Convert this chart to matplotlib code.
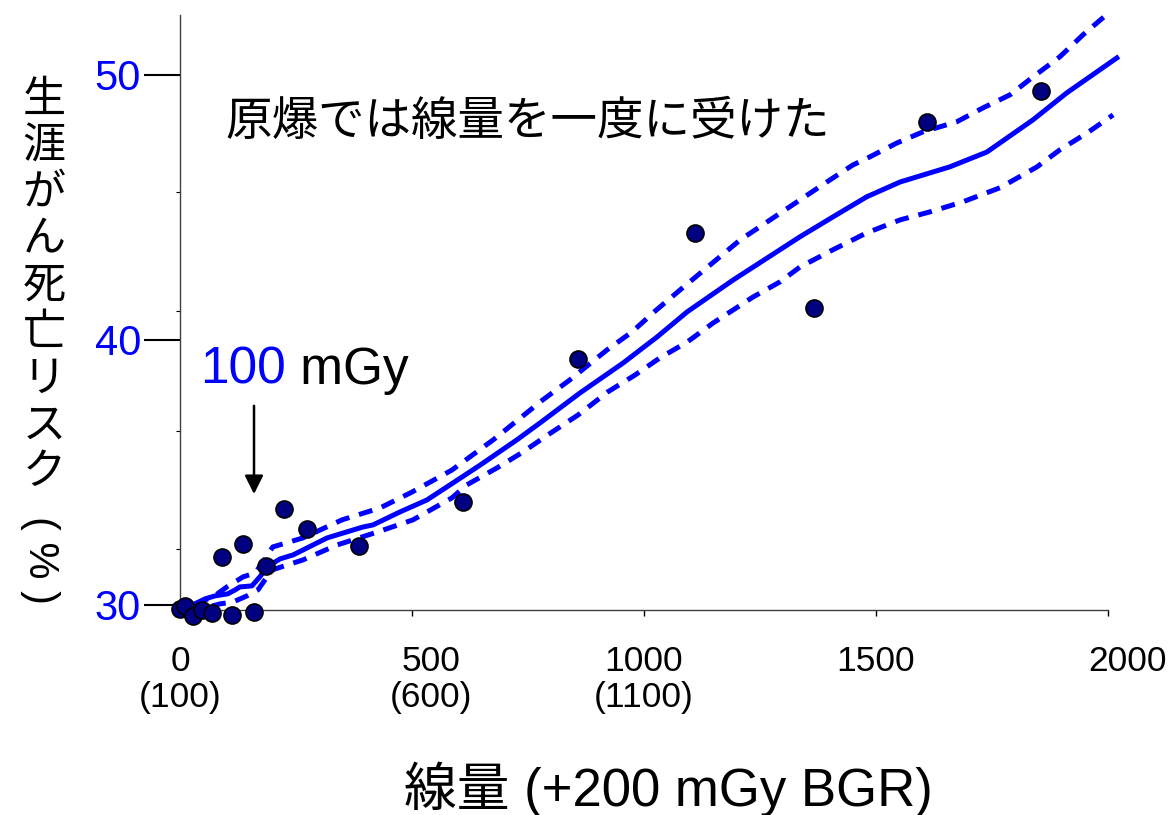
import matplotlib
matplotlib.use('Agg')
import matplotlib.pyplot as plt
import matplotlib.transforms as mtransforms

plt.rcParams['font.family'] = ['Liberation Sans', 'Noto Sans CJK JP', 'DejaVu Sans']

# dose categories (mGy) and observed lifetime cancer mortality (%)
dose_pts = [0, 11, 28, 47, 69, 112, 159, 91, 136, 185, 224, 274, 386,
            610, 858, 1110, 1366, 1610, 1855]
risk_pts = [29.85, 29.96, 29.58, 29.81, 29.70, 29.62, 29.74, 31.81, 32.30,
            31.47, 33.62, 32.87, 32.23, 33.89, 39.28, 44.04, 41.21, 48.23,
            49.40]

# smoothed fit
fit_dose = [6, 32, 54, 75, 103, 119, 129, 155, 172, 190, 216, 244, 317, 394,
            416, 474, 532, 588, 647, 726, 776, 862, 955, 1028, 1093, 1192,
            1336, 1407, 1480, 1552, 1659, 1739, 1838, 1911, 2019]
fit_risk = [29.92, 30.04, 30.23, 30.34, 30.42, 30.57, 30.68, 30.72, 31.06,
            31.47, 31.74, 31.89, 32.53, 32.94, 33.02, 33.51, 33.96, 34.60,
            35.28, 36.23, 36.87, 38.00, 39.13, 40.11, 41.06, 42.26, 43.89,
            44.64, 45.40, 45.96, 46.53, 47.09, 48.30, 49.32, 50.64]

# confidence band
upper_dose = [32, 71, 101, 136, 162, 177, 200, 265, 349, 431, 500, 586, 675,
              782, 840, 920, 974, 1024, 1078, 1207, 1336, 1394, 1450, 1487,
              1545, 1601, 1674, 1730, 1789, 1838, 1896, 1946, 2004]
upper_risk = [30.04, 30.30, 30.68, 31.06, 31.21, 31.58, 32.19, 32.53, 33.21,
              33.66, 34.26, 35.09, 36.23, 37.74, 38.49, 39.62, 40.30, 41.09,
              41.89, 43.77, 45.28, 45.96, 46.60, 46.91, 47.43, 47.85, 48.23,
              48.75, 49.25, 49.92, 50.68, 51.51, 52.38]
lower_dose = [69, 86, 114, 144, 168, 198, 265, 338, 425, 502, 586, 618, 683,
              739, 793, 858, 922, 981, 1034, 1093, 1149, 1235, 1293, 1336,
              1407, 1480, 1552, 1616, 1687, 1767, 1847, 1896, 1955, 2011]
lower_risk = [29.96, 30.04, 30.11, 30.34, 30.57, 31.32, 31.70, 32.26, 32.75,
              33.21, 34.04, 34.53, 35.17, 35.77, 36.42, 37.17, 38.04, 38.68,
              39.32, 39.92, 40.64, 41.62, 42.19, 42.75, 43.40, 44.04, 44.53,
              44.83, 45.21, 45.74, 46.53, 47.17, 47.81, 48.49]

x_ticks = [0, 500, 1000, 1500, 2000]
x_labels = ['0\n(100)', '500\n(600)', '1000\n(1100)', '1500', '2000']
x_label_shift = [0, 14, 0, 0, 14]   # points, nudges a few labels right
y_ticks = [30, 40, 50]
y_minor = [32.11, 36.57, 41.09, 45.58, 50.0]

BLUE = '#0000ff'

fig = plt.figure(figsize=(11.71, 8.15), dpi=100)
ax = fig.add_axes([180 / 1171, 1 - 610 / 815, 928 / 1171, 595 / 815])

ax.plot(fit_dose, fit_risk, color=BLUE, lw=3.6, clip_on=False, zorder=2)
for d, r in ((upper_dose, upper_risk), (lower_dose, lower_risk)):
    ax.plot(d, r, color=BLUE, lw=3.6, ls=(0, (2.8, 2.0)),
            dash_capstyle='butt', clip_on=False, zorder=2)
ax.scatter(dose_pts, risk_pts, s=150, c='#000080', edgecolors='black',
           linewidths=1.2, zorder=3, clip_on=False)

ax.set_xlim(0, 2000)
ax.set_ylim(29.81, 52.26)
ax.set_xticks(x_ticks)
ax.set_xticklabels(x_labels, linespacing=1.1)
ax.set_yticks(y_ticks)
ax.set_yticks(y_minor, minor=True)
ax.tick_params(axis='y', which='major', length=26, width=1.5, pad=2,
               labelsize=30, labelcolor=BLUE)
ax.tick_params(axis='y', which='minor', length=3, width=0.8)
ax.tick_params(axis='x', length=4.3, width=1, pad=21, labelsize=25.5)

for lab, dx in zip(ax.get_xticklabels(), x_label_shift):
    if dx:
        lab.set_transform(lab.get_transform() +
                          mtransforms.ScaledTranslation(dx / 72, 0,
                                                        fig.dpi_scale_trans))

for side in ('top', 'right'):
    ax.spines[side].set_visible(False)
for side in ('left', 'bottom'):
    ax.spines[side].set_color('#404040')
    ax.spines[side].set_linewidth(1)

ax.set_xlabel('線量 (+200 mGy BGR)', fontsize=38)
ax.xaxis.set_label_coords(0.526, -0.255)

# vertical y label, stacked characters
for i, ch in enumerate('生涯がん死亡リスク'):
    fig.text(44 / 1171, 1 - (100 + i * 46.5) / 815, ch, fontsize=31,
             family='Noto Sans CJK JP', ha='center', va='center')
fig.text(40 / 1171, 1 - 560 / 815, '( % )', fontsize=30, rotation=-90,
         ha='center', va='center', rotation_mode='anchor')

ax.text(97, 48.23, '原爆では線量を一度に受けた', fontsize=33.5,
        family='Noto Sans CJK JP', ha='left', va='center')

t100 = ax.text(43, 38.34, '100', fontsize=37, color=BLUE, va='baseline')
ax.annotate(' mGy', xy=(1, 0), xycoords=t100, fontsize=37, va='bottom')
ax.annotate('', xy=(159.5, 34.08), xytext=(159.5, 37.62),
            arrowprops=dict(arrowstyle='-|>', color='black', lw=1.8,
                            mutation_scale=28))

fig.savefig('out.png', dpi=100)
